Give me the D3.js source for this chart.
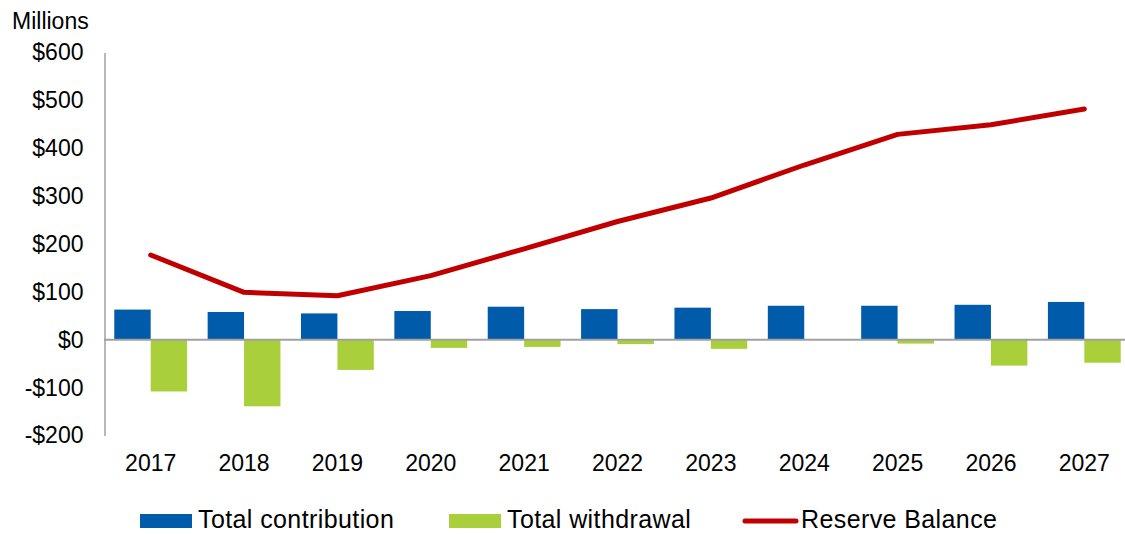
<!DOCTYPE html>
<html>
  <head>
    <meta charset="utf-8">
    <style>
      body { margin: 0; background: #fff; }
      svg { font-family: "Liberation Sans", Arial, sans-serif; }
      .tick text { fill: #000; }
    </style>
  </head>
  <body>
    <script src="https://d3js.org/d3.v7.min.js"></script>
    <script>
      const years = ["2017","2018","2019","2020","2021","2022","2023","2024","2025","2026","2027"]
      const contribution = [63, 58, 55, 60, 69, 64, 67, 71, 71, 73, 79]
      const withdrawal = [-108, -139, -63, -17, -15, -9, -19, 0, -8, -54, -48]
      const reserve = [177, 99, 92, 134, 190, 247, 296, 365, 429, 449, 482]
      const yTicks = [-200, -100, 0, 100, 200, 300, 400, 500, 600]
      const seriesNames = ["Total contribution", "Total withdrawal", "Reserve Balance"]
      const colors = ["#005BAA", "#A9CF3B", "#C00000"]

      const w = 1125, h = 534
      const svg = d3.select("body").append("svg")
        .attr("width", w)
        .attr("height", h)

      const y = d3.scaleLinear().domain([-200, 600]).range([435.5, 52.5])
      const x0 = d3.scaleBand().domain(years).range([104, 1131]).padding(0)
      const xs = d3.scaleBand().domain([0, 1]).range([0, x0.bandwidth()])
        .paddingInner(0).paddingOuter(0.282)

      const fmt = d => (d < 0 ? "-$" : "$") + Math.abs(d)

      // bars
      const barData = [contribution, withdrawal]
      barData.forEach((vals, s) => {
        svg.append("g").selectAll("rect")
          .data(vals)
          .enter()
          .append("rect")
            .attr("x", (d, i) => x0(years[i]) + xs(s))
            .attr("width", xs.bandwidth())
            .attr("y", d => y(Math.max(0, d)))
            .attr("height", d => Math.abs(y(d) - y(0)))
            .attr("fill", colors[s])
      })

      // y axis
      const yAxis = d3.axisLeft(y).tickValues(yTicks).tickSize(0).tickPadding(21).tickFormat(fmt)
      const gy = svg.append("g")
        .attr("transform", "translate(104.5,0)")
        .call(yAxis)
      gy.select(".domain").attr("stroke", "#A0A0A0").attr("stroke-width", 1.5)
      gy.selectAll("text").style("font-size", "23px")

      // zero line
      svg.append("line")
        .attr("x1", 104).attr("x2", w)
        .attr("y1", y(0)).attr("y2", y(0))
        .attr("stroke", "#A0A0A0").attr("stroke-width", 2)

      // x labels
      const xAxis = d3.axisBottom(x0).tickSize(0).tickPadding(0)
      const gx = svg.append("g")
        .attr("transform", "translate(0,455)")
        .call(xAxis)
      gx.select(".domain").remove()
      gx.selectAll("text").style("font-size", "23px")

      // reserve line
      const line = d3.line()
        .x((d, i) => x0(years[i]) + x0.bandwidth() / 2)
        .y(d => y(d))
      svg.append("path")
        .datum(reserve)
        .attr("d", line)
        .attr("fill", "none")
        .attr("stroke", colors[2])
        .attr("stroke-width", 5)
        .attr("stroke-linecap", "round")
        .attr("stroke-linejoin", "round")

      svg.append("text")
        .attr("x", 12).attr("y", 29)
        .style("font-size", "23px")
        .text("Millions")

      // legend
      const legendX = [140, 449, 743]
      const lg = svg.append("g")
      seriesNames.forEach((name, i) => {
        if (i < 2) {
          lg.append("rect")
            .attr("x", legendX[i]).attr("y", 514)
            .attr("width", 52).attr("height", 14)
            .attr("fill", colors[i])
        } else {
          lg.append("line")
            .attr("x1", legendX[i] + 2).attr("x2", legendX[i] + 53)
            .attr("y1", 521).attr("y2", 521)
            .attr("stroke", colors[i]).attr("stroke-width", 5)
            .attr("stroke-linecap", "round")
        }
        lg.append("text")
          .attr("x", legendX[i] + 58).attr("y", 528)
          .style("font-size", "25px")
          .style("letter-spacing", "0.4px")
          .text(name)
      })
    </script>
  </body>
</html>
